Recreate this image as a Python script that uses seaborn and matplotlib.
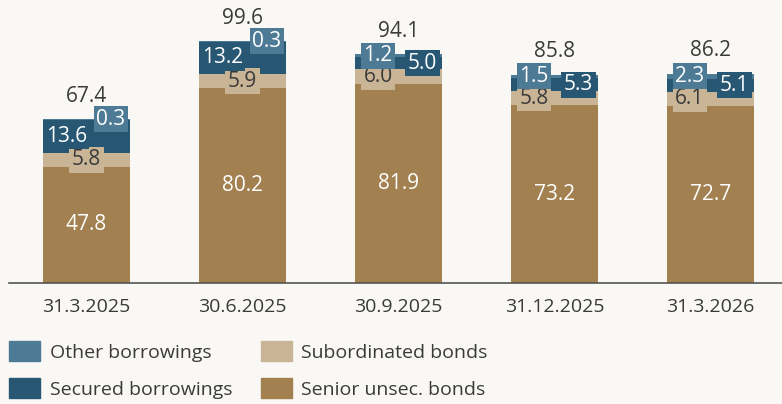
import numpy as np
import pandas as pd
import matplotlib
matplotlib.use("Agg")
import matplotlib.pyplot as plt
import seaborn as sns
from matplotlib.patches import Patch

# data
dates = ["31.3.2025", "30.6.2025", "30.9.2025", "31.12.2025", "31.3.2026"]
senior = [47.8, 80.2, 81.9, 73.2, 72.7]
subordinated = [5.8, 5.9, 6.0, 5.8, 6.1]
secured = [13.6, 13.2, 5.0, 5.3, 5.1]
other = [0.3, 0.3, 1.2, 1.5, 2.3]
totals = [67.4, 99.6, 94.1, 85.8, 86.2]

names = ["Senior unsec. bonds", "Subordinated bonds", "Secured borrowings", "Other borrowings"]
colors = ["#A2804F", "#C9B596", "#275773", "#4D7A95"]
txt_colors = ["white", "#3a3a3a", "white", "white"]
bg = "#F9F8F5"
dark = "#3a3a3a"

# horizontal nudges of the segment labels (category units)
x_shift = [
    [0, 0, 0, 0, 0],
    [0, 0, -0.13, -0.13, -0.13],
    [-0.13, -0.13, 0.155, 0.155, 0.155],
    [0.155, 0.155, -0.13, -0.13, -0.13],
]

sns.set_style("white")
plt.rcParams["font.family"] = ["Open Sans", "DejaVu Sans"]

df = pd.DataFrame({"date": dates, names[0]: senior, names[1]: subordinated,
                   names[2]: secured, names[3]: other})
layers = df[names].to_numpy()
cum = np.cumsum(layers, axis=1)

fig = plt.figure(figsize=(7.82, 4.04), dpi=100, facecolor=bg)
ax = fig.add_axes([8.5 / 782, 121 / 404, 773.5 / 782, 283 / 404])
ax.set_facecolor(bg)

# stacked bars: draw cumulative heights from the top layer down
for i in range(3, -1, -1):
    sns.barplot(x=df["date"], y=cum[:, i], color=colors[i], saturation=1,
                width=0.56, ax=ax, linewidth=0, order=dates)

for i in range(4):
    for j in range(len(dates)):
        mid = cum[j, i] - layers[j, i] / 2
        kw = {}
        if i > 0:
            kw["bbox"] = dict(boxstyle="square,pad=0.12", fc=colors[i], ec="none")
        ax.text(j + x_shift[i][j], mid, f"{layers[j, i]:.1f}", ha="center", va="center",
                fontsize=15, color=txt_colors[i], **kw)

for j, t in enumerate(totals):
    ax.annotate(f"{t:.1f}", (j, cum[j, 3]), xytext=(0, 16.5), textcoords="offset points",
                ha="center", va="center", fontsize=15, color=dark)

ax.set_xlim(-0.5, 4.46)
ax.set_ylim(0, 116.5)
ax.set_xlabel("")
ax.set_ylabel("")
ax.set_yticks([])
ax.tick_params(axis="x", length=0, labelsize=14, labelcolor=dark, pad=11)
for s in ["top", "right", "left"]:
    ax.spines[s].set_visible(False)
ax.spines["bottom"].set_color("#555555")
ax.spines["bottom"].set_linewidth(1.2)

handles = [Patch(color=colors[3]), Patch(color=colors[2]),
           Patch(color=colors[1]), Patch(color=colors[0])]
labels = [names[3], names[2], names[1], names[0]]
fig.legend(handles, labels, ncol=2, loc="upper left", bbox_to_anchor=(9 / 782, 1 - 341 / 404),
           frameon=False, fontsize=14, labelcolor=dark, borderpad=0, borderaxespad=0,
           handlelength=1.6, handleheight=1.2, handletextpad=0.5, columnspacing=1.45,
           labelspacing=0.85)

fig.savefig("out.png", dpi=100, facecolor=bg)
